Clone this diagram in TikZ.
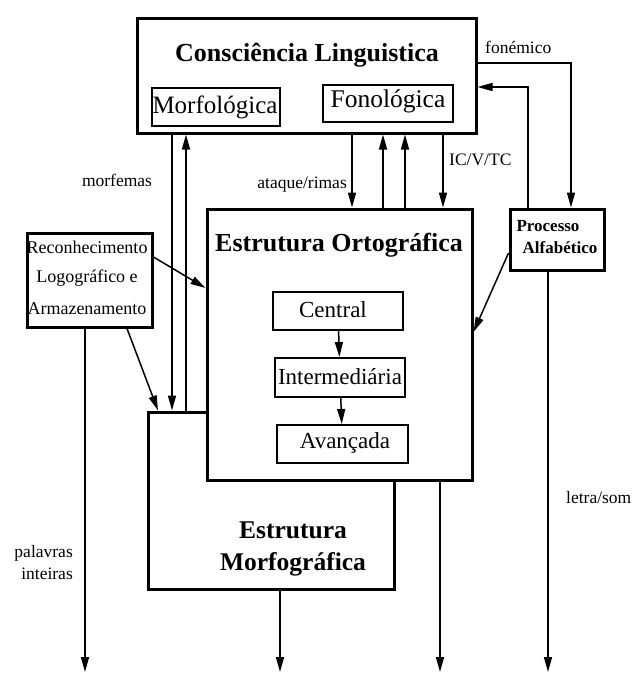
\documentclass[tikz,border=0pt]{standalone}
\usepackage{fontspec}
\setmainfont{Liberation Serif}
\usetikzlibrary{arrows.meta}
\begin{document}
\begin{tikzpicture}[x=1pt,y=-1pt,
  bigbox/.style={draw, line width=3pt, fill=white, inner sep=0pt},
  smallbox/.style={draw, line width=2pt, fill=white, inner sep=0pt},
  arr/.style={line width=1.5pt, -{Triangle[length=15pt,width=8pt]}},
  lbl/.style={font=\fontsize{17.5}{20}\selectfont, inner sep=0pt},
  ttl/.style={font=\fontsize{26}{30}\selectfont\bfseries, inner sep=0pt},
  inner/.style={font=\fontsize{24}{28}\selectfont, inner sep=0pt},
  small/.style={font=\fontsize{18}{20}\selectfont, inner sep=0pt}]
\fill[white] (0,0) rectangle (632,678);
\useasboundingbox (0,0) rectangle (632,678);

% Estrutura Morfografica (behind)
\node[bigbox, minimum width=246pt, minimum height=177pt] (mg) at (271,500.5) {};
\node[ttl, align=center, font=\fontsize{25.5}{32}\selectfont\bfseries] (mgt) at (293,549) {Estrutura\\Morfográfica};

% Consciencia Linguistica
\node[bigbox, minimum width=339pt, minimum height=115pt] (cl) at (306.5,75.5) {};
\node[ttl] (clt) at (307,55) {Consciência Linguistica};
\node[smallbox, minimum width=128pt, minimum height=38pt] (morf) at (216,107) {};
\node[inner, font=\fontsize{25}{28}\selectfont] (morft) at (215,107) {Morfológica};
\node[smallbox, minimum width=130pt, minimum height=37pt] (fon) at (388,103.5) {};
\node[inner, font=\fontsize{25.5}{28}\selectfont] (font) at (388,101) {Fonológica};

% Estrutura Ortografica
\node[bigbox, minimum width=265pt, minimum height=271pt] (orto) at (339.5,344.5) {};
\node[ttl] (ortot) at (339,245) {Estrutura Ortográfica};
\node[smallbox, minimum width=130pt, minimum height=38pt] (cen) at (338,311) {};
\node[inner, font=\fontsize{23}{26}\selectfont] at (333,310) {Central};
\node[smallbox, minimum width=130pt, minimum height=39pt] (int) at (340,377.5) {};
\node[inner, font=\fontsize{23}{26}\selectfont] at (340,377) {Intermediária};
\node[smallbox, minimum width=131pt, minimum height=38pt] (ava) at (342.5,444) {};
\node[inner, font=\fontsize{23}{26}\selectfont] at (345,443) {Avançada};

% Reconhecimento
\node[bigbox, minimum width=125pt, minimum height=94pt] (rec) at (89.5,280) {};
\node[small] at (87,247) {Reconhecimento};
\node[small] at (87,278) {Logográfico e};
\node[small] at (87,309) {Armazenamento};

% Processo Alfabetico
\node[bigbox, minimum width=94pt, minimum height=61pt] (proc) at (557,239.5) {};
\node[small, font=\fontsize{17}{20}\selectfont\bfseries] at (548,226) {Processo};
\node[small, font=\fontsize{17}{20}\selectfont\bfseries] at (560,248) {Alfabético};

% connectors
\draw[arr] (cen) -- (int);
\draw[arr] (int) -- (ava);

\draw[arr] (cl.east |- 0,63) -| (proc.north -| 571,0);
\node[lbl, anchor=west] at (485,47) {fonémico};
\draw[arr] (proc.north -| 528,0) |- (cl.east |- 0,87);
\draw[arr] (proc.west |- 0,253) -- (orto.east |- 0,332);
\draw[arr] (proc.south -| 548,0) -- (548,672);
\node[lbl, anchor=west] at (566,498) {letra/som};

\draw[arr] (orto.south -| 440,0) -- (440,672);
\draw[arr] (mg.south -| 280,0) -- (280,672);
\draw[arr] (rec.south -| 85,0) -- (85,672);
\node[lbl, anchor=east, align=right, font=\fontsize{17.5}{22}\selectfont] at (73,563) {palavras\\inteiras};

\draw[arr] (rec.south -| 127,0) -- (mg.north -| 158,0);
\draw[arr] (rec.east |- 0,257) -- (orto.west |- 0,288);

\draw[arr] (cl.south -| 172,0) -- (mg.north -| 172,0);
\draw[arr] (mg.north -| 186,0) -- (cl.south -| 186,0);
\node[lbl] at (117,180) {morfemas};

\draw[arr] (cl.south -| 352,0) -- (orto.north -| 352,0);
\draw[arr] (orto.north -| 383,0) -- (cl.south -| 383,0);
\draw[arr] (orto.north -| 405,0) -- (cl.south -| 405,0);
\draw[arr] (cl.south -| 443,0) -- (orto.north -| 443,0);
\node[lbl, anchor=east] at (347,185) {ataque/rimas};
\node[lbl, anchor=west] at (449,160) {IC/V/TC};
\end{tikzpicture}
\end{document}
